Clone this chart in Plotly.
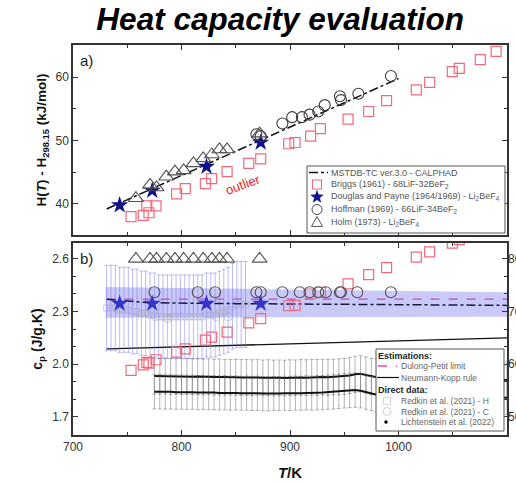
import math
import plotly.graph_objects as go

# ---------------- data ----------------
# panel a: enthalpy increment (kJ/mol)
calphad_T = [731, 1000]
calphad_H = [39.2, 59.8]

briggs_T = [753.5, 764.8, 770, 768, 776.5, 795.5, 803.5, 822, 827.8, 842, 862, 873,
            898.8, 904.6, 919, 928, 953.5, 972.5, 989, 1016.4, 1028.7, 1049.6, 1056, 1075.4, 1090]
briggs_H = [38.0, 38.2, 38.6, 39.7, 39.7, 41.6, 42.4, 43.2, 44.0, 45.1, 46.4, 47.1,
            49.5, 49.7, 50.7, 51.9, 53.4, 54.6, 56.3, 58.0, 59.2, 60.9, 61.4, 62.8, 64.1]
briggs_cp = [1.964, 1.996, 2.006, 2.01, 2.025, 2.069, 2.087, 2.137, 2.154, 2.183, 2.235, 2.26,
             2.333, 2.335, 2.40, 2.41, 2.458, 2.51, 2.55, 2.61, 2.64, 2.69, 2.71, 2.75, 2.78]

douglas_T = [743, 773, 823, 873]
douglas_H = [39.8, 42.1, 45.9, 49.7]
douglas_cp = [2.345, 2.345, 2.345, 2.345]

hoff_T = [869, 873, 893, 902, 911, 918, 926, 932, 946, 947, 963, 993]
hoff_H = [51.0, 50.7, 52.7, 53.7, 53.7, 54.1, 54.6, 55.6, 57.0, 56.4, 57.4, 60.2]
hoff_cp_T = [775, 815, 831, 869, 873, 893, 909, 918, 926, 933, 946, 947, 962, 993]
hoff_cp = [2.41, 2.41, 2.41, 2.41, 2.41, 2.41, 2.41, 2.41, 2.41, 2.41, 2.41, 2.41, 2.41, 2.41]

holm_T = [758, 771, 777, 786, 794, 802, 811, 820, 828, 835, 842, 872]
holm_H = [40.9, 43.0, 42.6, 44.3, 45.1, 45.3, 46.4, 47.2, 47.8, 48.6, 48.6, 51.1]
holm_cp = [2.60, 2.60, 2.60, 2.60, 2.60, 2.60, 2.60, 2.60, 2.60, 2.60, 2.60, 2.60]

# panel b: heat capacity (J/g.K)
calphad_cp_T = [731, 770, 850, 1100]
calphad_cp = [2.37, 2.35, 2.345, 2.335]
band_T = [730, 1100, 1100, 730]
band_cp = [2.44, 2.41, 2.27, 2.265]
dulong_T = [731, 1100]
dulong_cp = [2.371, 2.371]
neumann_T = [731, 1100]
neumann_cp = [2.087, 2.15]

redkinH_T = [731, 735, 739, 743, 747, 751, 755, 759, 763, 767, 771, 775, 779, 783, 787, 791, 795,
             799, 803, 807, 811, 815, 819, 823, 827, 831, 835, 839, 843, 847, 851, 855, 859]
redkinH_cp = [2.32, 2.32, 2.32, 2.31, 2.31, 2.31, 2.30, 2.30, 2.29, 2.29, 2.28, 2.28, 2.27, 2.27,
              2.27, 2.27, 2.27, 2.27, 2.27, 2.27, 2.27, 2.27, 2.27, 2.28, 2.28, 2.28, 2.29, 2.30,
              2.31, 2.33, 2.34, 2.34, 2.34]
redkinC_T = [776, 787, 832, 843]
redkinC_cp = [2.27, 2.26, 2.27, 2.27]

licht_T = [775, 780, 785, 790, 795, 800, 805, 810, 815, 820, 825, 830, 835, 840, 845, 850,
           855, 860, 865, 870, 875, 880, 885, 890, 895, 900, 905, 910, 915, 920, 925, 930, 935, 940, 945, 950,
           955, 960, 965, 970, 975, 980, 985, 990, 995, 1000, 1005, 1010, 1015, 1020, 1025, 1030, 1035,
           1040, 1045, 1050, 1055, 1060, 1065, 1070, 1075, 1080, 1085, 1090, 1095, 1100]
licht1_cp = [1.932, 1.931, 1.933, 1.930, 1.931, 1.929, 1.930, 1.928, 1.929, 1.927, 1.928, 1.926, 1.927, 1.925, 1.926, 1.925,
             1.924, 1.925, 1.923, 1.924, 1.922, 1.923, 1.921, 1.922, 1.921, 1.923, 1.922, 1.924, 1.923, 1.925, 1.924, 1.926, 1.925, 1.927, 1.928, 1.930,
             1.935, 1.942, 1.945, 1.938, 1.930, 1.925, 1.922, 1.920, 1.921, 1.919, 1.920, 1.918, 1.919, 1.917, 1.918, 1.916, 1.917,
             1.915, 1.916, 1.914, 1.915, 1.913, 1.914, 1.912, 1.913, 1.911, 1.912, 1.910, 1.911, 1.910]
licht2_cp = [1.842, 1.843, 1.841, 1.842, 1.840, 1.841, 1.839, 1.840, 1.838, 1.839, 1.837, 1.838, 1.836, 1.837, 1.835, 1.836,
             1.834, 1.835, 1.833, 1.834, 1.832, 1.831, 1.833, 1.832, 1.834, 1.833, 1.835, 1.834, 1.836, 1.835, 1.837, 1.838, 1.840, 1.842, 1.845, 1.848,
             1.850, 1.852, 1.848, 1.840, 1.832, 1.826, 1.822, 1.820, 1.819, 1.818, 1.819, 1.817, 1.818, 1.816, 1.817, 1.815, 1.816,
             1.814, 1.815, 1.813, 1.814, 1.812, 1.813, 1.811, 1.812, 1.810, 1.811, 1.809, 1.810, 1.809]

right_ticks = [50, 60, 70, 80]

legend_a_labels = ["MSTDB-TC ver.3.0 - CALPHAD",
                   "Briggs (1961) - 68LiF-32BeF<sub>2</sub>",
                   "Douglas and Payne (1964/1969) - Li<sub>2</sub>BeF<sub>4</sub>",
                   "Hoffman (1969) - 66LiF-34BeF<sub>2</sub>",
                   "Holm (1973) - Li<sub>2</sub>BeF<sub>4</sub>"]
legend_b_labels = ["<b>Estimations:</b>", "Dulong-Petit limit", "Neumann-Kopp rule",
                   "<b>Direct data:</b>", "Redkin et al. (2021) - H", "Redkin et al. (2021) - C",
                   "Lichtenstein et al. (2022)"]

# ---------------- styling ----------------
FONT = "Liberation Sans, Arial, sans-serif"
RED = "#f06a7c"
NAVY = "#10108a"

W, H = 516, 484
ML, MR, MT, MB = 73, 9, 45, 49
PW, PH = W - ML - MR, H - MT - MB


def px(xp):   # page pixel -> paper x
    return (xp - ML) / PW


def py(yp):   # page pixel -> paper y
    return (H - MB - yp) / PH


fig = go.Figure()

# ----- panel a -----
fig.add_trace(go.Scatter(x=calphad_T, y=calphad_H, mode="lines", xaxis="x", yaxis="y",
                         line=dict(color="#111111", width=1.5, dash="dashdot"),
                         name=legend_a_labels[0], showlegend=False))
fig.add_trace(go.Scatter(x=briggs_T, y=briggs_H, mode="markers", xaxis="x", yaxis="y",
                         marker=dict(symbol="square-open", size=10, color=RED, line=dict(width=1.2)),
                         name=legend_a_labels[1], showlegend=False))
fig.add_trace(go.Scatter(x=douglas_T, y=douglas_H, mode="markers", xaxis="x", yaxis="y",
                         marker=dict(symbol="star", size=13, color=NAVY),
                         name=legend_a_labels[2], showlegend=False))
fig.add_trace(go.Scatter(x=hoff_T, y=hoff_H, mode="markers", xaxis="x", yaxis="y",
                         marker=dict(symbol="circle-open", size=11, color="#3a3a3a", line=dict(width=1.1)),
                         name=legend_a_labels[3], showlegend=False))
fig.add_trace(go.Scatter(x=holm_T, y=holm_H, mode="markers", xaxis="x", yaxis="y",
                         marker=dict(symbol="triangle-up-open", size=13, color="#505050", line=dict(width=1.1)),
                         name=legend_a_labels[4], showlegend=False))

# ----- panel b -----
fig.add_trace(go.Scatter(x=dulong_T, y=dulong_cp, mode="lines", xaxis="x2", yaxis="y2",
                         line=dict(color="#ff3fa0", width=1.3, dash="dash"),
                         name="Dulong-Petit limit", showlegend=False))
fig.add_trace(go.Scatter(x=neumann_T, y=neumann_cp, mode="lines", xaxis="x2", yaxis="y2",
                         line=dict(color="#111111", width=1.3),
                         name="Neumann-Kopp rule", showlegend=False))
fig.add_trace(go.Scatter(x=band_T, y=band_cp, mode="lines", xaxis="x2", yaxis="y2",
                         fill="toself", fillcolor="rgba(100,100,240,0.35)", line=dict(width=0),
                         showlegend=False, hoverinfo="skip"))
fig.add_trace(go.Scatter(x=redkinH_T, y=redkinH_cp, mode="markers", xaxis="x2", yaxis="y2",
                         marker=dict(symbol="square-open", size=6, color="rgba(170,170,200,0.6)"),
                         error_y=dict(type="percent", value=10.5, color="rgba(115,115,230,0.55)",
                                      thickness=0.9, width=2),
                         name="Redkin et al. (2021) - H", showlegend=False))
fig.add_trace(go.Scatter(x=redkinC_T, y=redkinC_cp, mode="markers", xaxis="x2", yaxis="y2",
                         marker=dict(symbol="circle-open", size=8, color="rgba(170,170,180,0.6)"),
                         name="Redkin et al. (2021) - C", showlegend=False))
for ser in (licht1_cp, licht2_cp):
    fig.add_trace(go.Scatter(x=licht_T, y=ser, mode="lines", xaxis="x2", yaxis="y2",
                             line=dict(color="#111111", width=2.0),
                             error_y=dict(type="percent", value=5.3, color="rgba(105,105,105,0.55)",
                                          thickness=0.9, width=2),
                             name="Lichtenstein et al. (2022)", showlegend=False))
fig.add_trace(go.Scatter(x=calphad_cp_T, y=calphad_cp, mode="lines", xaxis="x2", yaxis="y2",
                         line=dict(color="#1a1a40", width=1.5, dash="dashdot"), showlegend=False))
fig.add_trace(go.Scatter(x=briggs_T, y=briggs_cp, mode="markers", xaxis="x2", yaxis="y2",
                         marker=dict(symbol="square-open", size=10, color=RED, line=dict(width=1.2)),
                         showlegend=False))
fig.add_trace(go.Scatter(x=hoff_cp_T, y=hoff_cp, mode="markers", xaxis="x2", yaxis="y2",
                         marker=dict(symbol="circle-open", size=11, color="#555555", line=dict(width=1.1)),
                         showlegend=False))
fig.add_trace(go.Scatter(x=holm_T, y=holm_cp, mode="markers", xaxis="x2", yaxis="y2",
                         marker=dict(symbol="triangle-up-open", size=13, color="#555555", line=dict(width=1.1)),
                         showlegend=False))
fig.add_trace(go.Scatter(x=douglas_T, y=douglas_cp, mode="markers", xaxis="x2", yaxis="y2",
                         marker=dict(symbol="star", size=13, color="#3535c8"),
                         showlegend=False))
# invisible trace to carry the right-hand axis of panel b
fig.add_trace(go.Scatter(x=[None], y=[None], xaxis="x2", yaxis="y3", showlegend=False))

# ---------------- hand-built compact legends ----------------
shapes = []
annotations = []


def sym(kind, cx, cy, size, color, fill=None, width=1.0):
    base = dict(xref="paper", yref="paper", xsizemode="pixel", ysizemode="pixel",
                xanchor=px(cx), yanchor=py(cy), layer="above",
                line=dict(color=color, width=width), fillcolor=fill or "rgba(0,0,0,0)")
    r = size / 2
    if kind == "square":
        shapes.append(dict(type="rect", x0=-r, x1=r, y0=-r, y1=r, **base))
    elif kind == "circle":
        shapes.append(dict(type="circle", x0=-r, x1=r, y0=-r, y1=r, **base))
    elif kind == "triangle":
        shapes.append(dict(type="path", path=f"M {-r} {-r*0.8} L {r} {-r*0.8} L 0 {r} Z", **base))
    elif kind == "star":
        pts = []
        for k in range(10):
            ang = math.pi / 2 + k * math.pi / 5
            rad = r if k % 2 == 0 else r * 0.42
            pts.append(f"{rad*math.cos(ang):.2f} {rad*math.sin(ang):.2f}")
        shapes.append(dict(type="path", path="M " + " L ".join(pts) + " Z", **base))


def hline(x0, x1, yc, color, dash, width=1.2):
    shapes.append(dict(type="line", xref="paper", yref="paper", x0=px(x0), x1=px(x1),
                       y0=py(yc), y1=py(yc), layer="above",
                       line=dict(color=color, width=width, dash=dash)))


def label(text, x, yc, size, color):
    annotations.append(dict(text=text, xref="paper", yref="paper", x=px(x), y=py(yc),
                            xanchor="left", yanchor="middle", showarrow=False,
                            font=dict(family=FONT, size=size, color=color)))


# legend a
shapes.append(dict(type="rect", xref="paper", yref="paper", x0=px(307), x1=px(505),
                   y0=py(233), y1=py(166), layer="above", fillcolor="white",
                   line=dict(color="#555555", width=1)))
rows_a = [172.5, 184.5, 197, 209.5, 222]
hline(309, 328, rows_a[0], "#111111", "dashdot", 1.4)
sym("square", 317, rows_a[1], 9, RED, width=1.1)
sym("star", 317, rows_a[2], 13, NAVY, fill=NAVY, width=0.5)
sym("circle", 317, rows_a[3], 10, "#444444", width=1.0)
sym("triangle", 317, rows_a[4], 11, "#555555", width=1.0)
for t, r in zip(legend_a_labels, rows_a):
    label(t, 329, r, 9, "#555555")

# legend b
shapes.append(dict(type="rect", xref="paper", yref="paper", x0=px(376), x1=px(504),
                   y0=py(431), y1=py(349), layer="above", fillcolor="white",
                   line=dict(color="#555555", width=1)))
rows_b = [355.5, 366, 377.5, 389.5, 401, 411.5, 422]
hline(378, 397, rows_b[1], "#ff3fa0", "dash", 1.3)
hline(377, 399, rows_b[2], "#111111", "solid", 1.2)
sym("square", 387, rows_b[4], 7, "rgba(180,180,180,0.7)", width=0.8)
sym("circle", 387, rows_b[5], 8, "rgba(170,170,170,0.7)", width=0.8)
sym("circle", 386, rows_b[6], 3, "#111111", fill="#111111", width=0.5)
for i, (t, r) in enumerate(zip(legend_b_labels, rows_b)):
    if i in (0, 3):
        label(t, 376, r, 9, "#222222")
    else:
        label(t, 399, r, 8.5, "#666666")

annotations += [
    dict(text="a)", x=705, y=62.6, xref="x", yref="y", xanchor="left", showarrow=False,
         font=dict(family=FONT, size=15, color="#222")),
    dict(text="b)", x=705, y=2.6, xref="x2", yref="y2", xanchor="left", showarrow=False,
         font=dict(family=FONT, size=15, color="#222")),
    dict(text="outlier", x=857, y=43.0, xref="x", yref="y", showarrow=False, textangle=-20,
         font=dict(family=FONT, size=13, color="#ee2020")),
]

axis_common = dict(showline=True, linecolor="#333333", linewidth=1.5, mirror="ticks",
                   ticks="inside", ticklen=5, tickwidth=1.2, tickcolor="#333333",
                   showgrid=False, zeroline=False, automargin=False,
                   tickfont=dict(family=FONT, size=12, color="#333333"))

fig.update_layout(
    width=W, height=H,
    margin=dict(l=ML, r=MR, t=MT, b=MB, autoexpand=False),
    paper_bgcolor="white", plot_bgcolor="white",
    showlegend=False,
    font=dict(family=FONT, color="#333333"),
    title=dict(text="<b><i>Heat capacity evaluation</i></b>", x=0.543, xanchor="center",
               y=1 - 19 / 484, yanchor="middle", yref="container",
               font=dict(family=FONT, size=31.5, color="#000000")),
    xaxis=dict(domain=[0, 1], anchor="y", range=[700, 1100], dtick=100, showticklabels=False,
               minor=dict(dtick=50, ticks="inside", ticklen=3, tickcolor="#333333"),
               matches="x2", **axis_common),
    xaxis2=dict(domain=[0, 1], anchor="y2", range=[700, 1100], dtick=100,
                minor=dict(dtick=50, ticks="inside", ticklen=3, tickcolor="#333333"),
                title=dict(text="<b><i>T</i>/K</b>", font=dict(family=FONT, size=15, color="#111"),
                           standoff=14),
                **axis_common),
    yaxis=dict(domain=[0.513, 1], anchor="x", range=[35.1, 65.1], dtick=10,
               minor=dict(dtick=5, ticks="inside", ticklen=3, tickcolor="#333333"),
               title=dict(text="<b>H(<i>T</i>) - H<sub>298.15</sub> (kJ/mol)</b>",
                          font=dict(family=FONT, size=13.5, color="#111"), standoff=6),
               **axis_common),
    yaxis2=dict(domain=[0, 0.492], anchor="x2", range=[1.596, 2.69], tickvals=[1.7, 2.0, 2.3, 2.6],
                ticktext=["1.7", "2.0", "2.3", "2.6"],
                minor=dict(tickvals=[1.6, 1.8, 1.9, 2.1, 2.2, 2.4, 2.5], ticks="inside", ticklen=3,
                           tickcolor="#333333"),
                title=dict(text="<b>c<sub>p</sub> (J/g.K)</b>",
                           font=dict(family=FONT, size=14, color="#111"), standoff=6),
                **axis_common),
    yaxis3=dict(overlaying="y2", side="right", anchor="x2",
                range=[50 + (1.596 - 1.7) / 0.03, 50 + (2.69 - 1.7) / 0.03],
                tickvals=right_ticks, ticks="", showgrid=False, zeroline=False, automargin=False,
                tickfont=dict(family=FONT, size=12, color="#333333")),
    shapes=shapes,
    annotations=annotations,
)

fig.write_html("out.html")
